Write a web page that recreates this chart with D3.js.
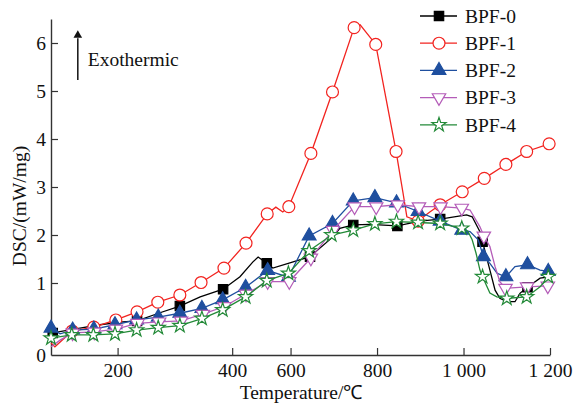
<!DOCTYPE html>
<html>
<head>
<meta charset="utf-8">
<script src="https://cdn.jsdelivr.net/npm/d3@7"></script>
<style>
  body { margin: 0; background: white; }
  svg { font-family: "Liberation Serif", "Times New Roman", serif; }
</style>
</head>
<body>
<div id="dscplot"></div>
<script>
// DSC curves, [temperature, DSC]
const bpf0 = [[46,-0.01],[50,-0.04],[113,0.06],[159,0.13],[212,0.19],[245,0.21],[298,0.38],[344,0.52],[391,0.71],[444,0.87],[483,1.13],[513,1.44],[525,1.54],[545,1.41],[559,1.31],[606,1.44],[645,1.55],[698,1.96],[714,2.14],[745,2.21],[784,2.22],[847,2.19],[899,2.29],[946,2.33],[1007,2.42],[1020,2.38],[1038,2.07],[1044,1.86],[1061,1.27],[1073,0.85],[1084,0.68],[1100,0.61],[1119,0.61],[1131,0.79],[1148,0.91],[1177,1.10],[1200,1.13]];
const bpf1 = [[46,-0.25],[55,-0.33],[95,0.0],[145,0.08],[196,0.23],[245,0.40],[293,0.60],[344,0.75],[393,1.01],[446,1.31],[497,1.83],[546,2.44],[566,2.58],[582,2.48],[596,2.59],[647,3.70],[697,4.98],[747,6.32],[761,6.38],[797,5.97],[844,3.74],[860,2.88],[869,2.38],[895,2.29],[922,2.48],[946,2.63],[997,2.90],[1048,3.18],[1098,3.47],[1146,3.74],[1198,3.90]];
const bpf2 = [[46,0.06],[67,-0.06],[96,0.02],[145,0.04],[194,0.13],[244,0.23],[294,0.29],[344,0.37],[395,0.47],[443,0.65],[496,0.91],[547,1.26],[595,1.12],[643,1.98],[697,2.24],[745,2.71],[795,2.78],[845,2.67],[895,2.49],[946,2.29],[996,2.10],[1015,2.07],[1034,1.90],[1046,1.55],[1061,1.41],[1078,1.20],[1098,1.13],[1119,1.34],[1148,1.38],[1177,1.27],[1196,1.24]];
const bpf3 = [[46,-0.33],[67,-0.19],[96,-0.04],[146,-0.02],[196,0.04],[246,0.16],[296,0.19],[347,0.21],[397,0.35],[447,0.51],[497,0.77],[547,1.03],[597,1.03],[647,1.52],[698,2.10],[748,2.59],[798,2.59],[848,2.63],[897,2.59],[947,2.59],[996,2.56],[1015,2.52],[1038,2.17],[1047,1.98],[1061,1.76],[1073,1.34],[1084,1.03],[1097,0.89],[1147,0.92],[1195,0.94]];
const bpf4 = [[46,-0.15],[94,-0.08],[144,-0.08],[194,-0.06],[244,0.02],[294,0.07],[344,0.11],[395,0.26],[443,0.44],[496,0.71],[545,1.05],[595,1.20],[643,1.67],[695,2.00],[745,2.10],[795,2.23],[845,2.28],[895,2.26],[946,2.24],[996,2.14],[1010,2.08],[1020,1.90],[1029,1.62],[1038,1.27],[1044,1.13],[1061,0.79],[1077,0.71],[1100,0.68],[1146,0.71],[1177,0.92],[1196,1.13]];

// temperatures that carry a marker
const bpf0Marks = [50,245,344,444,545,645,745,847,946,1044,1148];
const bpf1Marks = [95,145,196,245,293,344,393,446,497,546,596,647,697,747,797,844,895,946,997,1048,1098,1146,1198];
const bpf2Marks = [46,96,145,194,244,294,344,395,443,496,547,595,643,697,745,795,845,895,946,996,1046,1098,1148,1196];
const bpf3Marks = [96,146,196,246,296,347,397,447,497,547,597,647,698,748,798,848,897,947,996,1047,1097,1147,1195];
const bpf4Marks = [46,94,144,194,244,294,344,395,443,496,545,595,643,695,745,795,845,895,946,996,1044,1100,1146,1196];

const seriesNames = ["BPF-0", "BPF-1", "BPF-2", "BPF-3", "BPF-4"];

// axis ticks (the printed "400" tick sits off the even spacing)
const xTickAt = [200, 465, 600, 800, 1000, 1200];
const xTickLabels = ["200", "400", "600", "800", "1 000", "1 200"];
const yTickAt = [-0.5, 1, 2, 3, 4, 5, 6];
const yTickLabels = ["0", "1", "2", "3", "4", "5", "6"];

let width = 573, height = 403;
let margin = { top: 19, bottom: 48, left: 51, right: 23 };

let svg = d3.select('#dscplot')
            .append('svg')
            .attr('width', width)
            .attr('height', height)
            .style('background', 'white');

const x = d3.scaleLinear()
            .domain([46, 1200])
            .range([margin.left, width - margin.right]);

const y = d3.scaleLinear()
            .domain([-0.5, 6.5])
            .range([height - margin.bottom, margin.top]);

const styles = [
  { color: '#000000', shape: d3.symbolSquare, size: 88, fill: '#000000', rot: 0 },
  { color: '#f2231f', shape: d3.symbolCircle, size: 112, fill: 'white', rot: 0 },
  { color: '#1f4f9f', shape: d3.symbolTriangle, size: 82, fill: '#1f4f9f', rot: 0 },
  { color: '#b45cb8', shape: d3.symbolTriangle, size: 78, fill: 'white', rot: 180 },
  { color: '#238a38', shape: d3.symbolStar, size: 62, fill: 'white', rot: 0 }
];

const allSeries = [bpf0, bpf1, bpf2, bpf3, bpf4];
const allMarks = [bpf0Marks, bpf1Marks, bpf2Marks, bpf3Marks, bpf4Marks];

// axes, ticks pointing inward
svg.append('g')
   .attr('transform', `translate(0, ${height - margin.bottom})`)
   .call(d3.axisBottom(x).tickValues(xTickAt)
           .tickFormat((d, i) => xTickLabels[i])
           .tickSizeInner(-7).tickSizeOuter(0).tickPadding(8))
   .call(g => g.select('.domain').attr('stroke', '#333').attr('stroke-width', 1.4))
   .call(g => g.selectAll('line').attr('stroke', '#333').attr('stroke-width', 1.2))
   .call(g => g.selectAll('text').attr('font-size', '19.5px').attr('fill', '#111')
               .attr('font-family', '"Liberation Serif", serif'));

svg.append('g')
   .attr('transform', `translate(${margin.left}, 0)`)
   .call(d3.axisLeft(y).tickValues(yTickAt)
           .tickFormat((d, i) => yTickLabels[i])
           .tickSizeInner(-7).tickSizeOuter(0).tickPadding(5))
   .call(g => g.select('.domain').attr('stroke', '#333').attr('stroke-width', 1.4))
   .call(g => g.selectAll('line').attr('stroke', '#333').attr('stroke-width', 1.2))
   .call(g => g.selectAll('.tick').filter(d => d < 0).select('line').remove())
   .call(g => g.selectAll('text').attr('font-size', '19.5px').attr('fill', '#111')
               .attr('font-family', '"Liberation Serif", serif'));

// axis titles
svg.append('text')
   .attr('x', 301)
   .attr('y', 399)
   .attr('text-anchor', 'middle')
   .attr('font-size', '19.5px')
   .attr('fill', '#111')
   .text('Temperature/℃');

svg.append('text')
   .attr('transform', 'rotate(-90)')
   .attr('x', -206)
   .attr('y', 26)
   .attr('text-anchor', 'middle')
   .attr('font-size', '19.5px')
   .attr('fill', '#111')
   .text('DSC/(mW/mg)');

// exothermic arrow
svg.append('line')
   .attr('x1', x(108)).attr('x2', x(108))
   .attr('y1', y(5.23)).attr('y2', y(6.1))
   .attr('stroke', '#111').attr('stroke-width', 1.5);
svg.append('path')
   .attr('d', d3.symbol().type(d3.symbolTriangle).size(32)())
   .attr('transform', `translate(${x(108)}, ${y(6.16)})`)
   .attr('fill', '#111');
svg.append('text')
   .attr('x', x(131))
   .attr('y', y(5.67))
   .attr('dy', '0.35em')
   .attr('font-size', '19.5px')
   .attr('fill', '#111')
   .text('Exothermic');

// curves
const line = d3.line().x(d => x(d[0])).y(d => y(d[1]));

allSeries.forEach((data, i) => {
  const s = styles[i];
  svg.append('path')
     .datum(data)
     .attr('d', line)
     .attr('fill', 'none')
     .attr('stroke', s.color)
     .attr('stroke-width', 1.3);

  const marked = data.filter(d => allMarks[i].includes(d[0]));
  svg.selectAll(null)
     .data(marked)
     .enter()
     .append('path')
     .attr('d', d3.symbol().type(s.shape).size(s.size)())
     .attr('transform', d => `translate(${x(d[0])}, ${y(d[1])}) rotate(${s.rot})`)
     .attr('fill', s.fill)
     .attr('stroke', s.color)
     .attr('stroke-width', 1.2);
});

// legend
const legend = svg.append('g')
                  .attr('transform', `translate(420, 16)`);

seriesNames.forEach((name, i) => {
  const s = styles[i];
  legend.append('line')
        .attr('x1', 0).attr('x2', 37)
        .attr('y1', i * 27.2).attr('y2', i * 27.2)
        .attr('stroke', s.color).attr('stroke-width', 1.3);
  legend.append('path')
        .attr('d', d3.symbol().type(s.shape).size(s.size)())
        .attr('transform', `translate(19, ${i * 27.2}) rotate(${s.rot})`)
        .attr('fill', s.fill)
        .attr('stroke', s.color)
        .attr('stroke-width', 1.2);
  legend.append('text')
        .attr('x', 45)
        .attr('y', i * 27.2)
        .attr('dy', '0.35em')
        .attr('font-size', '19.5px')
        .attr('fill', '#111')
        .text(name);
});
</script>
</body>
</html>
